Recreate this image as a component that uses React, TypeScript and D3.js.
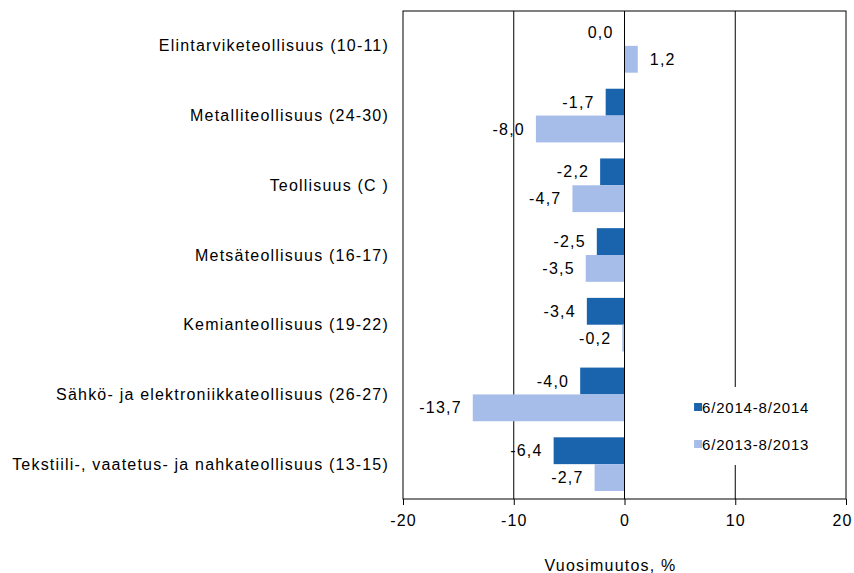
import React, { useEffect, useRef } from 'react';
import * as d3 from 'd3';

const categories = [
  'Elintarviketeollisuus (10-11)',
  'Metalliteollisuus (24-30)',
  'Teollisuus (C )',
  'Metsäteollisuus (16-17)',
  'Kemianteollisuus (19-22)',
  'Sähkö- ja elektroniikkateollisuus (26-27)',
  'Tekstiili-, vaatetus- ja nahkateollisuus (13-15)',
];
const series2014 = [0.0, -1.7, -2.2, -2.5, -3.4, -4.0, -6.4];
const series2013 = [1.2, -8.0, -4.7, -3.5, -0.2, -13.7, -2.7];
const seriesNames = ['6/2014-8/2014', '6/2013-8/2013'];
const seriesColors = ['#1a64ae', '#a7bde9'];
const xTicks = [-20, -10, 0, 10, 20];

const width = 854;
const height = 573;
const margin = { left: 403, right: 8, top: 11, bottom: 74 };

const fmt = (v: number) => v.toFixed(1).replace('.', ',');

const App = () => {
  const svgRef = useRef<SVGSVGElement>(null);

  useEffect(() => {
    const svg = d3.select(svgRef.current);
    svg.selectAll('*').remove();

    const innerW = width - margin.left - margin.right;
    const innerH = height - margin.top - margin.bottom;
    const font = '"Liberation Sans", Arial, sans-serif';
    const ls = '1.2px';

    const x = d3.scaleLinear().domain([-20, 20]).range([0, innerW]);
    const y = d3.scaleBand().domain(categories).range([0, innerH]).paddingInner(0.23).paddingOuter(0.115);
    const sub = d3.scaleBand().domain(seriesNames).range([0, y.bandwidth()]);

    const g = svg.append('g').attr('transform', `translate(${margin.left},${margin.top})`);

    // gridlines
    g.selectAll('.grid')
      .data(xTicks.filter((t) => t !== -20 && t !== 20))
      .enter().append('line')
      .attr('x1', (d) => x(d)).attr('x2', (d) => x(d))
      .attr('y1', 0).attr('y2', innerH)
      .attr('stroke', '#000').attr('stroke-width', 1);

    // bars + value labels
    const rows = categories.map((c, i) => ({ c, vals: [series2014[i], series2013[i]] }));
    rows.forEach((r) => {
      r.vals.forEach((v, k) => {
        const y0 = (y(r.c) as number) + (sub(seriesNames[k]) as number);
        const bh = sub.bandwidth();
        g.append('rect')
          .attr('x', x(Math.min(0, v)))
          .attr('y', y0)
          .attr('width', Math.abs(x(v) - x(0)))
          .attr('height', bh)
          .attr('fill', seriesColors[k]);
        const pos = v > 0;
        g.append('text')
          .attr('x', pos ? x(v) + 12 : x(Math.min(0, v)) - 11)
          .attr('y', y0 + bh / 2)
          .attr('dy', '0.35em')
          .attr('text-anchor', pos ? 'start' : 'end')
          .style('font-family', font)
          .style('font-size', '16px')
          .style('letter-spacing', ls)
          .attr('fill', '#000')
          .text(fmt(v));
      });
    });

    // zero line on top
    g.append('line')
      .attr('x1', x(0)).attr('x2', x(0)).attr('y1', 0).attr('y2', innerH)
      .attr('stroke', '#000');

    // legend
    const lg = g.append('g').attr('transform', `translate(${x(6.1)},${innerH - 112})`);
    lg.append('rect').attr('x', 0).attr('y', 0).attr('width', 125).attr('height', 78).attr('fill', '#fff');
    seriesNames.forEach((s, k) => {
      const ly = 21 + k * 37;
      lg.append('rect').attr('x', 2).attr('y', ly - 5).attr('width', 8).attr('height', 8).attr('fill', seriesColors[k]);
      lg.append('text')
        .attr('x', 10).attr('y', ly).attr('dy', '0.35em')
        .style('font-family', font).style('font-size', '15px')
        .style('letter-spacing', '0.8px')
        .text(s);
    });

    // frame
    g.append('rect')
      .attr('x', 0).attr('y', 0).attr('width', innerW).attr('height', innerH)
      .attr('fill', 'none').attr('stroke', '#000');

    // x axis
    const xa = g.append('g').attr('transform', `translate(0,${innerH})`)
      .call(d3.axisBottom(x).tickValues(xTicks).tickSize(6).tickPadding(10).tickFormat((d) => String(d)));
    xa.select('.domain').remove();
    xa.selectAll('text')
      .style('font-family', font).style('font-size', '16px').style('letter-spacing', ls)
      .attr('fill', '#000')
      .attr('dx', (d) => (d === 20 ? -4 : 0));

    g.append('text')
      .attr('x', x(0) - 14).attr('y', innerH + 72)
      .attr('text-anchor', 'middle')
      .style('font-family', font).style('font-size', '16px').style('letter-spacing', ls)
      .text('Vuosimuutos, %');

    // category labels
    g.selectAll('.cat')
      .data(categories)
      .enter().append('text')
      .attr('x', -14)
      .attr('y', (d) => (y(d) as number) + y.bandwidth() / 2)
      .attr('dy', '0.35em')
      .attr('text-anchor', 'end')
      .style('font-family', font).style('font-size', '16px').style('letter-spacing', ls)
      .text((d) => d);
  }, []);

  return (
    <svg
      ref={svgRef}
      width={width}
      height={height}
      style={{ position: 'absolute', left: 0, top: 0, overflow: 'visible', background: '#fff' }}
    />
  );
};

export default App;
